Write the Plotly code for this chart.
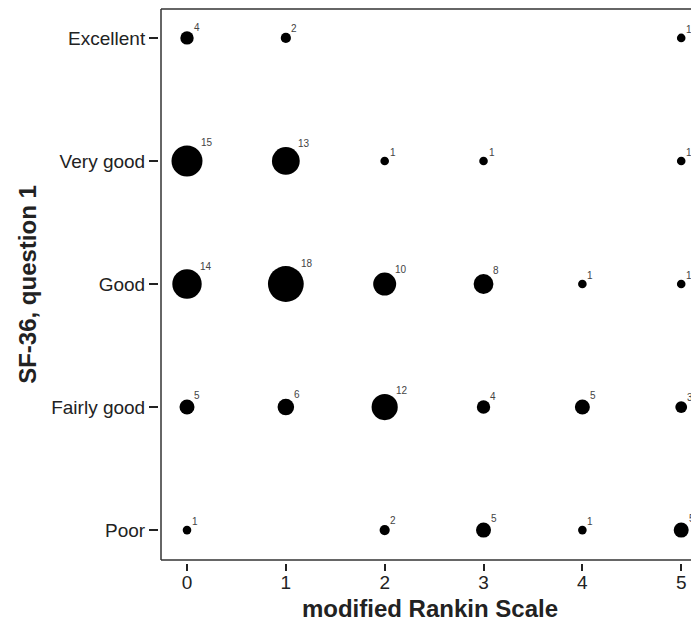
import plotly.graph_objects as go

mrs_levels = [0, 1, 2, 3, 4, 5]
sf36_labels = ["Poor", "Fairly good", "Good", "Very good", "Excellent"]

# counts per SF-36 level (rows) across mRS 0..5 (None = no patients)
poor = [1, None, 2, 5, 1, 5]
fairly_good = [5, 6, 12, 4, 5, 3]
good = [14, 18, 10, 8, 1, 1]
very_good = [15, 13, 1, 1, None, 1]
excellent = [4, 2, None, None, None, 1]

rows = [poor, fairly_good, good, very_good, excellent]

xs, ys, ns = [], [], []
for yi, row in enumerate(rows):
    for xi, n in zip(mrs_levels, row):
        if n is not None:
            xs.append(xi)
            ys.append(yi)
            ns.append(n)

sizes = [7 + 1.6 * n for n in ns]

fig = go.Figure()
fig.add_trace(go.Scatter(
    x=xs, y=ys, mode="markers", cliponaxis=False,
    marker=dict(size=sizes, sizemode="diameter", color="#000000", opacity=1,
                line=dict(width=0)),
    hoverinfo="skip", showlegend=False,
))
for x, y, n, s in zip(xs, ys, ns, sizes):
    fig.add_annotation(x=x, y=y, text=str(n), showarrow=False,
                       xshift=4 + 0.38 * (s - 8.6), yshift=2 + 0.446 * (s - 8.6),
                       xanchor="left", yanchor="bottom", borderpad=0,
                       font=dict(family="Liberation Sans, Arial", size=10, color="#444444"))

# page body has an 8px margin: figure occupies screen from (8, 8)
W, H = 691, 618
ml, mt, mb, mr = 150, 1, 63, 0
pw = W - ml - mr
ph = H - mt - mb
gap = 3

axis_font = dict(family="Liberation Sans, Arial", size=19, color="#222222")
title_font = dict(family="Liberation Sans, Arial", size=24, color="#222222")

fig.update_layout(
    width=W, height=H, margin=dict(l=ml, r=mr, t=mt, b=mb, pad=0),
    paper_bgcolor="white", plot_bgcolor="white",
    xaxis=dict(domain=[gap / pw, 1], range=[-0.263, 5.18], tickvals=mrs_levels,
               ticktext=[str(v) for v in mrs_levels], anchor="free", position=0,
               showgrid=False, zeroline=False, showline=False,
               ticks="outside", ticklen=7, tickwidth=2, tickcolor="#222222",
               tickfont=axis_font, ticklabelstandoff=-5,
               title=dict(text="<b>modified Rankin Scale</b>", font=title_font, standoff=8)),
    yaxis=dict(domain=[gap / ph, 1], range=[-0.243, 4.235], tickvals=list(range(5)),
               ticktext=sf36_labels, anchor="free", position=0,
               showgrid=False, zeroline=False, showline=False,
               ticks="outside", ticklen=9, tickwidth=2, tickcolor="#222222",
               tickfont=axis_font,
               title=dict(text="<b>SF-36, question 1</b>", font=title_font, standoff=6)),
)

lc = dict(color="#333333", width=1.5)
fig.add_shape(type="line", xref="x domain", yref="y domain", x0=0, x1=0, y0=0, y1=1, line=lc)
fig.add_shape(type="line", xref="x domain", yref="y domain", x0=0, x1=1.02, y0=0, y1=0, line=lc)
fig.add_shape(type="line", xref="x domain", yref="y domain", x0=0, x1=1.02, y0=1, y1=1, line=lc)

fig.write_html("out.html")
